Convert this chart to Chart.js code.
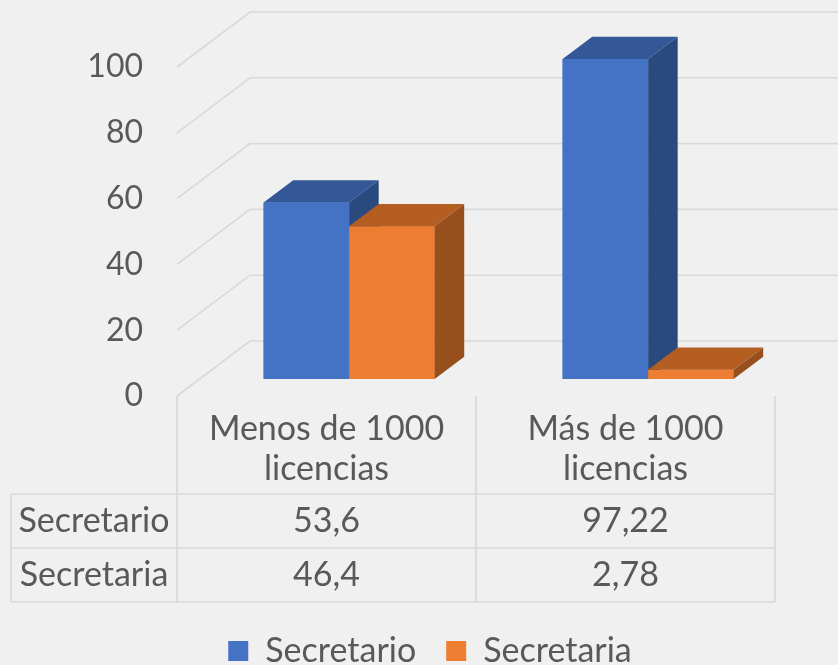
<!DOCTYPE html>
<html>
<head>
<meta charset="utf-8">
<script src="https://cdn.jsdelivr.net/npm/chart.js@4.4.1/dist/chart.umd.min.js"></script>
<style>
  html, body { margin: 0; padding: 0; background: #f0f0f0; }
  #wrap { width: 838px; height: 665px; }
</style>
</head>
<body>
<div id="wrap"><canvas id="chart"></canvas></div>
<script>
// --- data ---
const categories = [['Menos de 1000', 'licencias'], ['Más de 1000', 'licencias']];
const seriesNames = ['Secretario', 'Secretaria'];
const secretario = [53.6, 97.22];
const secretaria = [46.4, 2.78];
const yTicks = [0, 20, 40, 60, 80, 100];

// --- look ---
const TEXT = '#595959';
const GRID = '#d9d9d9';
const FONT = 'Lato';
const DEPTH = { dx: 73, dy: -55 };       // full depth of the 3D floor
const BAR_FRONT = 0.31, BAR_BACK = 0.715; // where the bars sit in that depth
const faces = [
    { top: '#345897', side: '#2a4a7f' },
    { top: '#b55e22', side: '#974f1d' }
];

const fmt = v => String(v).replace('.', ',');

const threeD = {
    id: 'threeD',
    beforeDraw(chart) {
        const { ctx, chartArea: a, scales: { y } } = chart;
        ctx.save();
        ctx.fillStyle = '#f0f0f0';
        ctx.fillRect(0, 0, chart.width, chart.height);
        ctx.strokeStyle = GRID;
        ctx.lineWidth = 1.6;
        yTicks.forEach(v => {
            const py = y.getPixelForValue(v);
            ctx.beginPath();
            ctx.moveTo(a.left, py);
            ctx.lineTo(a.left + DEPTH.dx, py + DEPTH.dy);
            ctx.lineTo(chart.width, py + DEPTH.dy);
            ctx.stroke();
        });
        ctx.restore();
    },
    beforeDatasetsDraw(chart) {
        chart.ctx.save();
        chart.ctx.translate(DEPTH.dx * BAR_FRONT, DEPTH.dy * BAR_FRONT);
    },
    afterDatasetsDraw(chart) {
        const ctx = chart.ctx;
        const d = BAR_BACK - BAR_FRONT;
        const ox = DEPTH.dx * d, oy = DEPTH.dy * d;
        const metas = chart.getSortedVisibleDatasetMetas().slice().sort((m1, m2) => m1.index - m2.index);
        // per category, left to right series: front, top, side
        for (let i = 0; i < categories.length; i++) {
            metas.forEach(meta => {
                const bar = meta.data[i];
                const fc = faces[meta.index];
                const { x, y, base, width } = bar.getProps(['x', 'y', 'base', 'width'], true);
                const l = x - width / 2, r = x + width / 2;
                bar.draw(ctx);
                ctx.fillStyle = fc.top;
                ctx.beginPath();
                ctx.moveTo(l, y); ctx.lineTo(l + ox, y + oy);
                ctx.lineTo(r + ox, y + oy); ctx.lineTo(r, y);
                ctx.closePath(); ctx.fill();
                ctx.fillStyle = fc.side;
                ctx.beginPath();
                ctx.moveTo(r, y); ctx.lineTo(r + ox, y + oy);
                ctx.lineTo(r + ox, base + oy); ctx.lineTo(r, base);
                ctx.closePath(); ctx.fill();
            });
        }
        ctx.restore();
    },
    afterDraw(chart) {
        // data table under the plot
        const { ctx, chartArea: a, scales: { x } } = chart;
        const colW = x.width / categories.length;
        const headBottom = a.bottom + 98;
        const rowH = 54;
        const tableLeft = 11;
        const rows = [secretario, secretaria];
        const tableBottom = headBottom + rowH * rows.length;
        ctx.save();
        ctx.strokeStyle = GRID;
        ctx.lineWidth = 1.6;
        ctx.beginPath();
        for (let i = 0; i <= categories.length; i++) {
            const px = a.left + colW * i;
            ctx.moveTo(px, a.bottom);
            ctx.lineTo(px, tableBottom);
        }
        ctx.moveTo(tableLeft, headBottom);
        ctx.lineTo(tableLeft, tableBottom);
        for (let r = 0; r <= rows.length; r++) {
            ctx.moveTo(tableLeft, headBottom + rowH * r);
            ctx.lineTo(a.right, headBottom + rowH * r);
        }
        ctx.stroke();

        ctx.fillStyle = TEXT;
        ctx.font = `34px ${FONT}`;
        ctx.textAlign = 'center';
        ctx.textBaseline = 'middle';
        categories.forEach((lines, i) => {
            const cx = x.getPixelForValue(i);
            const cy = (a.bottom + headBottom) / 2 + 4;
            lines.forEach((t, k) => ctx.fillText(t, cx, cy + (k - (lines.length - 1) / 2) * 40));
        });
        rows.forEach((vals, r) => {
            const cy = headBottom + rowH * r + rowH / 2;
            ctx.fillText(seriesNames[r], (tableLeft + a.left) / 2, cy);
            vals.forEach((v, i) => ctx.fillText(fmt(v), x.getPixelForValue(i), cy));
        });
        ctx.restore();
    }
};

const canvas = document.getElementById('chart');
new Chart(canvas, {
    type: 'bar',
    data: {
        labels: categories,
        datasets: [{
            label: seriesNames[0],
            data: secretario,
            backgroundColor: '#4472c4',
            borderWidth: 0,
            clip: false,
            categoryPercentage: 0.572,
            barPercentage: 1
        }, {
            label: seriesNames[1],
            data: secretaria,
            backgroundColor: '#ed7d31',
            borderWidth: 0,
            clip: false,
            categoryPercentage: 0.572,
            barPercentage: 1
        }]
    },
    options: {
        responsive: true,
        maintainAspectRatio: false,
        animation: false,
        layout: { padding: { top: 67, right: 0, left: 22, bottom: -13 } },
        scales: {
            x: {
                grid: { display: false },
                border: { display: false },
                ticks: { display: false },
                afterFit: scale => { scale.height = 208; }
            },
            y: {
                min: 0,
                max: 100,
                afterBuildTicks: scale => { scale.ticks = yTicks.map(v => ({ value: v })); },
                grid: { display: false, drawTicks: false, tickLength: 0 },
                border: { display: false },
                ticks: { color: TEXT, font: { family: FONT, size: 32 }, padding: 34 },
                afterFit: scale => { scale.width = 155; }
            },
            // empty right-hand strip so the plot ends where the table does
            yRight: {
                position: 'right',
                min: 0,
                max: 100,
                grid: { display: false, drawTicks: false },
                border: { display: false },
                ticks: { display: false },
                afterFit: scale => { scale.width = 63; }
            }
        },
        plugins: {
            legend: {
                position: 'bottom',
                labels: {
                    color: TEXT,
                    font: { family: FONT, size: 34 },
                    boxWidth: 20,
                    boxHeight: 20,
                    padding: 30
                }
            },
            tooltip: { enabled: false }
        }
    },
    plugins: [threeD]
});
</script>
</body>
</html>
